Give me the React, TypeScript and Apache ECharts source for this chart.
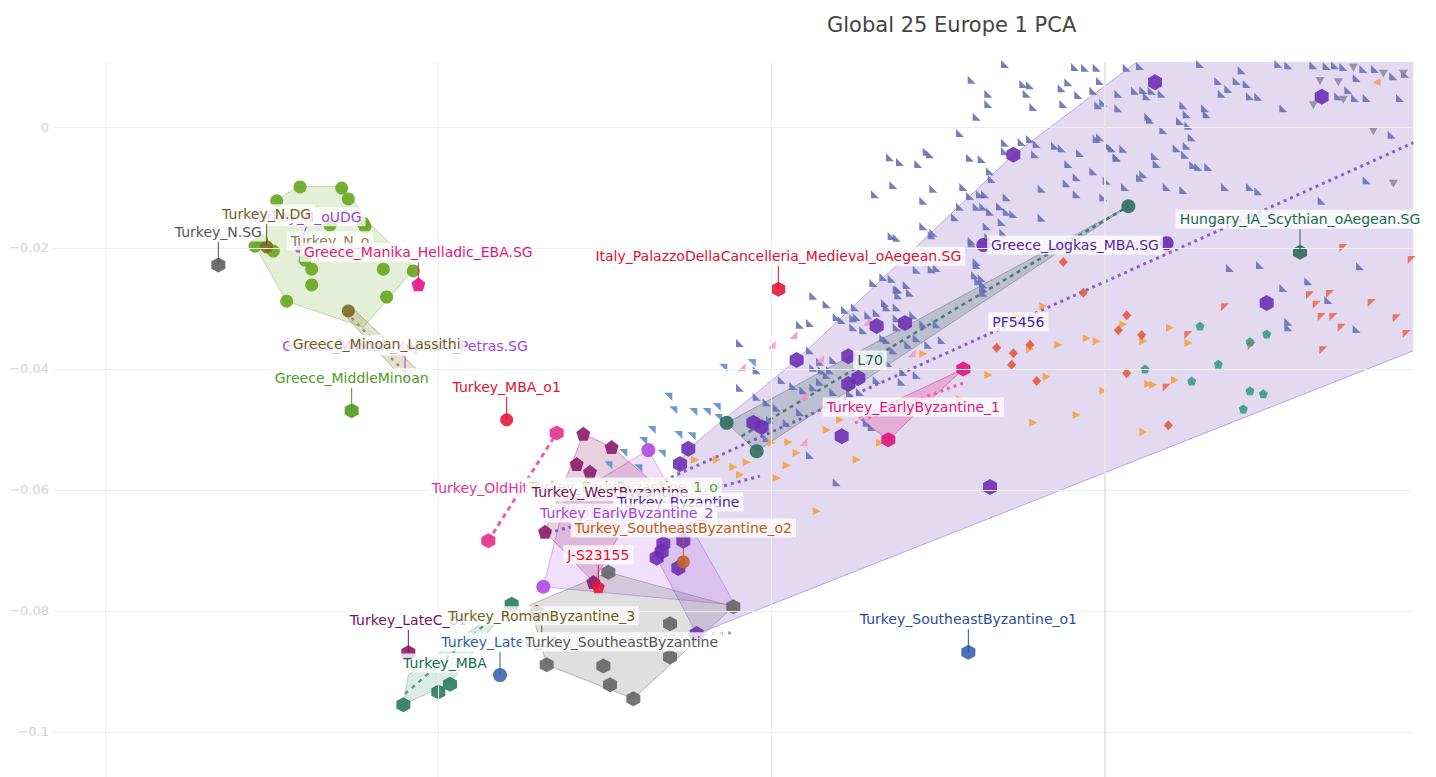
import React, { useEffect, useRef } from "react";
import * as echarts from "echarts";

// ---------- axis ticks ----------
const Y_TICKS = [0, -0.02, -0.04, -0.06, -0.08, -0.1];
const X_GRID = [-0.06, -0.04, -0.02, 0];

// ---------- small markers ----------
const BLUE_TRI = [
  [-0.006,0.0104],[-0.008,0.0078],[-0.007,0.0055],[-0.007,0.0038],[-0.0077,0.0017],[-0.0087,-0.001],[-0.006,-0.0026],[-0.0129,-0.005],[-0.0123,-0.0058],[-0.0107,-0.0041],[-0.0105,-0.0045],[-0.0112,-0.0061],[-0.0081,-0.0051],[-0.0074,-0.0053],[-0.0069,-0.0073],[-0.0127,-0.0096],[-0.0138,-0.0111],[-0.0109,-0.0122],[-0.0103,-0.0102],[-0.0085,-0.0099],[-0.0081,-0.0114],[-0.0075,-0.0111],[-0.0072,-0.0111],[-0.0059,-0.0116],[-0.0087,-0.0132],[-0.0077,-0.0132],[-0.0073,-0.0132],[-0.0069,-0.014],[-0.0063,-0.0131],[-0.0059,-0.014],[-0.0055,-0.0144],[-0.0062,-0.0157],[-0.0071,-0.0164],[-0.0109,-0.0164],[-0.0128,-0.018],[-0.0125,-0.0183],[-0.0103,-0.0175],[-0.008,-0.0188],[-0.0077,-0.0223],[-0.0113,-0.0236],[-0.0104,-0.0235],[-0.0101,-0.0233],[-0.0133,-0.0248],[-0.0128,-0.0251],[-0.0119,-0.0261],[-0.0124,-0.0268],[-0.0117,-0.0274],[-0.0175,-0.0279],[-0.0078,-0.0245],[-0.0074,-0.025],[-0.0073,-0.0266],
  [-0.0018,0.0099],[-0.0012,0.0098],[-0.0005,0.0098],[0.0013,0.0098],[-0.0049,0.0071],[-0.0045,0.0069],[-0.0026,0.0064],[-0.0022,0.0074],[-0.0003,0.0076],[-0.0047,0.0055],[-0.0016,0.0053],[-0.0007,0.006],[-0.0043,0.0033],[-0.0025,0.0038],[-0.0004,0.0036],[-0.0001,0.004],[0.0008,0.0055],[0.0008,0.0031],[0.0018,0.006],[-0.006,-0.004],[-0.005,-0.0025],[-0.0045,-0.002],[-0.0041,-0.0028],[-0.0068,-0.0086],[-0.009,-0.0149],[-0.0038,-0.015],[-0.0061,-0.0175],[-0.007,-0.0182],
  [-0.0042,-0.0045],[-0.003,-0.0031],[-0.0026,-0.0035],[-0.0022,-0.0061],[-0.0015,-0.0043],[-0.0005,-0.002],[-0.0003,-0.0017],[0.0002,-0.0031],[0.0004,-0.0035],[0.0007,-0.005],[0.0011,-0.0036],[0.0023,0.0061],[0.0025,0.0051],[0.0028,0.006],[0.0034,0.0055],[0.0026,0.0017],[0.0027,0.0012],[0.0047,0.0036],[0.0049,0.0021],[0.006,0.0031],[0.0061,0.0021],[0.0045,0.001],[0.005,0.0002],[0.0052,-0.0017],[0.0049,-0.0031],[0.0048,-0.0046],[0.0043,-0.0035],[0.0035,-0.0005],[0.003,-0.0048],[0.0031,-0.0061],[0.0021,-0.0084],[0.0023,-0.0078],[0.0012,-0.0099],[0.0007,-0.0051],[0.0001,-0.0089],[-0.0007,-0.0073],[-0.0017,-0.0083],[-0.0023,-0.0093],[-0.0038,-0.0102],[-0.0017,-0.0111],[-0.0001,-0.0116],[0.0037,-0.0099],[0.0047,-0.0104],[0.0053,-0.0063],[0.0056,-0.0066],[0.0062,-0.0066],[0.0072,-0.0099],[0.0087,-0.0099],[0.0092,-0.0106],[0.013,-0.0122],[0.0157,-0.0088],[0.0068,0.0076],[0.007,0.0055],[0.0074,0.0063],[0.0079,0.0076],[0.0085,0.0071],[0.0087,0.0051],[0.0092,0.005],[0.0082,0.0094],[0.0104,0.0104],[0.011,0.0102],[0.0133,0.0101],[0.0138,0.0102],[0.0143,0.0099],[0.0151,0.0081],[0.0155,0.0096],[0.0107,0.0031],[0.014,0.0051],[0.0146,0.0061],[0.015,0.0048],[0.0157,0.0048],[0.0162,0.0096],[0.0173,0.0084],[0.0177,0.0048],[0.018,0.0088],[0.0172,-0.0013],[0.0125,0.0102],[0.0021,0.0101],[0.0057,0.0104],
  [0.0075,-0.0233],[0.0093,-0.0228],[0.0107,-0.0266],[0.0122,-0.0255],[0.0134,-0.0286],[0.011,-0.0322],[0.011,-0.0331],[0.0151,-0.0334],[0.0153,-0.023],
  [-0.0104,-0.0179],[-0.008,-0.0192],[-0.0077,-0.0228],[-0.0076,-0.0255],[-0.0073,-0.026],[-0.0124,-0.0278],[-0.0115,-0.0311],[-0.0109,-0.0326],[-0.0101,-0.0326],[-0.0098,-0.0352],[-0.0073,-0.0274],[-0.0106,-0.036],[-0.0131,-0.0298],[-0.0125,-0.0298],[-0.0113,-0.0349],[-0.0122,-0.0421],[-0.0125,-0.0331],[-0.0133,-0.0349],
  [-0.0219,-0.0357],[-0.0209,-0.0402],[-0.0219,-0.0431],[-0.0167,-0.0293],[-0.0156,-0.0302],[-0.015,-0.0298],[-0.0183,-0.0327],[-0.0177,-0.0324],[-0.0161,-0.0314],[-0.0158,-0.0319],[-0.0151,-0.0316],[-0.0149,-0.0314],[-0.0142,-0.0311],[-0.0137,-0.0307],[-0.0132,-0.0291],[-0.0125,-0.0269],[-0.0139,-0.0258],[-0.0125,-0.0316],[-0.0151,-0.0331],[-0.0145,-0.0336],[-0.0131,-0.0352],[-0.0127,-0.0369],[-0.0118,-0.036],[-0.0177,-0.0369],[-0.0171,-0.0388],[-0.0175,-0.0398],[-0.017,-0.0402],[-0.0165,-0.0402],[-0.0167,-0.041],[-0.0163,-0.0385],[-0.0194,-0.0418],[-0.0187,-0.0428],[-0.0181,-0.0435],[-0.0209,-0.0446],[-0.0203,-0.0455],[-0.0197,-0.0464],[-0.0201,-0.0484],[-0.0183,-0.0471],[-0.0171,-0.0421],[-0.0175,-0.043],[-0.0163,-0.0438],[-0.0153,-0.044],[-0.0147,-0.0438],[-0.0137,-0.0418],[-0.013,-0.039],[-0.0121,-0.0405],[-0.0113,-0.041],[-0.014,-0.0496],[-0.0143,-0.0489],[-0.0191,-0.0489],[-0.0177,-0.0542],[-0.0203,-0.0514],[-0.0161,-0.0587],[-0.0231,-0.0617],
];
const LIGHTBLUE_TRI = [
  [-0.0229,-0.0398],[-0.0262,-0.0446],[-0.0259,-0.0468],[-0.0239,-0.0471],[-0.0233,-0.0463],[-0.0232,-0.0481],[-0.0272,-0.0501],[-0.0256,-0.0509],[-0.0248,-0.0511],[-0.0277,-0.0519],[-0.0289,-0.0539],[-0.0266,-0.054],[-0.0247,-0.0471],[-0.028,-0.0564],[-0.0212,-0.039],[-0.0298,-0.0559],
];
const ORANGE_TRI = [
  [-0.0037,-0.0296],[-0.0053,-0.0312],[-0.0045,-0.0367],[-0.0028,-0.036],[-0.0011,-0.0349],[-0.0005,-0.0354],[0.0011,-0.0326],[0.0023,-0.0354],[0.0039,-0.0332],[0.005,-0.0357],[-0.007,-0.041],[-0.0035,-0.0413],[-0.0001,-0.0436],[0.0026,-0.0425],[0.0029,-0.0426],[0.0042,-0.0418],[-0.0017,-0.0476],[-0.0043,-0.0489],[0.0023,-0.0504],[-0.0087,-0.045],[-0.0109,-0.0375],[-0.02,-0.0522],[-0.019,-0.0521],[-0.0185,-0.0539],[-0.0191,-0.0559],[-0.0215,-0.0554],[-0.0223,-0.0562],[-0.0219,-0.0575],[-0.0246,-0.055],[-0.0233,-0.055],[-0.0149,-0.055],[-0.0135,-0.0522],[-0.0167,-0.0501],[-0.0159,-0.0484],[-0.0173,-0.0635],[-0.0197,-0.058],
];
const RED_DIAMOND = [
  [-0.0025,-0.0223],[-0.0013,-0.0274],[0.0008,-0.0336],[0.0013,-0.0311],[0.0022,-0.0344],[-0.0065,-0.0365],[-0.0055,-0.0374],[-0.0045,-0.036],[-0.0056,-0.0393],[-0.0041,-0.042],[0.0013,-0.0407],[0.0038,-0.0493],
];
const RED_TRI = [
  [0.0143,-0.02],[0.0184,-0.022],[0.0072,-0.0298],[0.0123,-0.0278],[0.0135,-0.0276],[0.0127,-0.0294],[0.016,-0.0291],[0.013,-0.0314],[0.0137,-0.0314],[0.0142,-0.0332],[0.0175,-0.0316],[0.0181,-0.0342],[0.0131,-0.0369],[0.0088,-0.0362],[0.005,-0.0344],[0.0037,-0.0431],
];
const TEAL_PENT = [
  [0.0057,-0.0329],[0.0097,-0.0342],[0.0087,-0.0355],[0.0024,-0.04],[0.0068,-0.0392],[0.0052,-0.042],[0.0087,-0.0436],[0.0095,-0.0441],[0.0083,-0.0466],
];
const PINK_TRI = [
  [-0.0187,-0.0344],[-0.0218,-0.0397],[-0.0171,-0.0383],[-0.0181,-0.0445],[-0.0181,-0.0521],[-0.0116,-0.0374],[-0.0143,-0.0322],[-0.02,-0.036],
];
const GRAY_TRI = [
  [0.0129,0.0076],[0.014,0.0074],[0.0125,0.0036],[0.0143,0.0045],[0.0149,0.0098],[0.0161,-0.0007],[0.0173,-0.0094],[0.0167,0.0088],[0.0179,0.0088],
];
const ORANGE_LEFT = [[0.0163, 0.0074]];

// ---------- group markers ----------
const GREEN_CIRC = [
  [-0.0483,-0.0099],[-0.0458,-0.0101],[-0.0454,-0.0119],[-0.0497,-0.0122],[-0.0445,-0.0159],[-0.0444,-0.0165],[-0.051,-0.0197],[-0.0499,-0.0205],[-0.0476,-0.0235],[-0.0476,-0.0261],[-0.0433,-0.0235],[-0.0415,-0.0238],[-0.0491,-0.0288],[-0.0431,-0.0281],[-0.048,-0.022],[-0.0493,-0.0144],[-0.0465,-0.0162],[-0.0506,-0.0187],
];
const BYZ_HEX = [
  [0.003,0.0074],[0.013,0.005],[-0.0055,-0.0046],[0.0097,-0.0291],[-0.0137,-0.0329],[-0.012,-0.0324],[-0.0185,-0.0385],[-0.0154,-0.0379],[-0.0148,-0.0415],[-0.0154,-0.0425],[-0.0158,-0.0511],[-0.0211,-0.0489],[-0.0206,-0.0496],[-0.025,-0.0532],[-0.0255,-0.0557],[-0.0069,-0.0595],[-0.0265,-0.0689],[-0.0266,-0.0702],[-0.0269,-0.0712],[-0.0256,-0.0729],[-0.0245,-0.0838],[-0.0253,-0.0684],
];
const LOGKAS_CIRC = [[-0.0073,-0.0195],[0.0037,-0.0192]];
const L70_CIRC = [[-0.0227,-0.0489],[-0.0209,-0.0536],[0.0014,-0.0131]];
const WESTBYZ_PENT = [[-0.0313,-0.0507],[-0.0296,-0.0529],[-0.0317,-0.0557],[-0.0309,-0.057],[-0.0336,-0.0669],[-0.0307,-0.0752]];
const EBZ2_CIRC = [[-0.0274,-0.0534],[-0.0337,-0.076]];
const SEBYZ_HEX = [[-0.0335,-0.0889],[-0.0301,-0.0891],[-0.0297,-0.0922],[-0.0283,-0.0945],[-0.0261,-0.0876],[-0.0261,-0.0821],[-0.0223,-0.0793],[-0.0298,-0.0736],[-0.0341,-0.0802]];
const MBA_HEX = [[-0.0421,-0.0955],[-0.04,-0.0934],[-0.0393,-0.0921],[-0.0356,-0.0789]];
const OLDHIT_HEX = [[-0.0329,-0.0506],[-0.037,-0.0684]];
const EBZ1_HEX = [[-0.0085,-0.04],[-0.013,-0.0517]];
const OLIVE_CIRC = [[-0.0503,-0.0198],[-0.0454,-0.0304]];
const NSG_HEX = [[-0.0532,-0.0228]];
const SMALL_PURPLE = [[-0.0484,-0.0203],[-0.042,-0.0415]];
const MANIKA_PENT = [[-0.0412,-0.026]];
const MIDMINOAN_HEX = [[-0.0452,-0.0469]];
const RED_CIRC = [[-0.0359,-0.0484]];
const RED_HEX = [[-0.0196,-0.0268]];
const RED_PENT = [[-0.0304,-0.076]];
const HUNGARY_HEX = [[0.0117,-0.0207]];
const BROWN_CIRC = [[-0.0253,-0.0719]];
const LATEC1_HEX = [[-0.0418,-0.0869]];
const LATEC2_CIRC = [[-0.0363,-0.0906]];
const SEO1_HEX = [[-0.0082,-0.0868]];

// ---------- hulls ----------
const GREEN_HULL = [[-0.0484,-0.0098],[-0.0458,-0.0098],[-0.0452,-0.0117],[-0.0442,-0.0157],[-0.0414,-0.0233],[-0.0445,-0.0331],[-0.0491,-0.0288],[-0.051,-0.0197],[-0.0497,-0.0121]];
const LASSITHI_HULL = [[-0.0456,-0.0311],[-0.0452,-0.0298],[-0.0413,-0.04],[-0.042,-0.042]];
const BYZ_HULL = [[-0.0245,-0.0838],[0.0297,-0.0248],[0.0297,0.0375],[0.0148,0.0375],[-0.0055,-0.0046],[-0.0185,-0.0385],[-0.025,-0.0532],[-0.0255,-0.0557],[-0.0269,-0.0712]];
const L70_HULL = [[-0.0227,-0.0489],[0.0014,-0.0131],[-0.0209,-0.0536]];
const EBZ1_HULL = [[-0.0085,-0.04],[-0.013,-0.0517],[-0.0148,-0.0481]];
const WESTBYZ_HULL = [[-0.0313,-0.0507],[-0.0296,-0.0529],[-0.0273,-0.0583],[-0.0307,-0.0752],[-0.0336,-0.0669]];
const EBZ2_HULL = [[-0.0337,-0.076],[-0.0324,-0.0617],[-0.0274,-0.0534],[-0.0222,-0.079]];
const SEBYZ_HULL = [[-0.0335,-0.0889],[-0.0345,-0.079],[-0.0298,-0.0736],[-0.0223,-0.0793],[-0.0283,-0.0945]];
const MBA_HULL = [[-0.0421,-0.0955],[-0.0418,-0.0906],[-0.0357,-0.0787],[-0.0393,-0.0919]];

// ---------- trend lines ----------
const LINE_BYZ = [[-0.0291,-0.0617],[0.0185,-0.0026]];
const LINE_WEST = [[-0.0334,-0.0671],[-0.0207,-0.0577]];
const LINE_L70 = [[-0.0218,-0.0511],[0.0014,-0.0131]];
const LINE_OLDHIT = [[-0.037,-0.0684],[-0.0329,-0.0506]];
const LINE_EBZ1 = [[-0.015,-0.0489],[-0.0085,-0.0423]];
const LINE_MBA = [[-0.042,-0.0937],[-0.0369,-0.0815]];
const LINE_SEBYZ = [[-0.0279,-0.0843],[-0.0223,-0.0836]];
const LINE_LASSITHI = [[-0.0452,-0.0316],[-0.042,-0.0405]];

// ---------- annotations (anchor values) ----------
const ANNOTATIONS = [
  { name: "Turkey_N.SG", x: -0.0532, y: -0.0228 },
  { name: "Turkey_N_oUDG", x: -0.0484, y: -0.0203 },
  { name: "Turkey_N.DG", x: -0.0503, y: -0.0198 },
  { name: "Turkey_N_o", x: -0.0465, y: -0.0188 },
  { name: "Greece_Manika_Helladic_EBA.SG", x: -0.0412, y: -0.026 },
  { name: "Greece_Minoan_Kephala_Petras.SG", x: -0.042, y: -0.0415 },
  { name: "Greece_Minoan_Lassithi", x: -0.0437, y: -0.0359 },
  { name: "Greece_MiddleMinoan", x: -0.0452, y: -0.0469 },
  { name: "Turkey_MBA_o1", x: -0.0359, y: -0.0484 },
  { name: "Italy_PalazzoDellaCancelleria_Medieval_oAegean.SG", x: -0.0196, y: -0.0268 },
  { name: "Greece_Logkas_MBA.SG", x: -0.0018, y: -0.0195 },
  { name: "Hungary_IA_Scythian_oAegean.SG", x: 0.0117, y: -0.0207 },
  { name: "PF5456", x: -0.0052, y: -0.0322 },
  { name: "L70", x: -0.0141, y: -0.0385 },
  { name: "Turkey_EarlyByzantine_1", x: -0.0115, y: -0.0463 },
  { name: "Turkey_OldHittite", x: -0.0368, y: -0.0597 },
  { name: "Turkey_EarlyByzantine_1_o", x: -0.0289, y: -0.0595 },
  { name: "Turkey_WestByzantine", x: -0.0297, y: -0.0603 },
  { name: "Turkey_Byzantine", x: -0.0256, y: -0.062 },
  { name: "Turkey_EarlyByzantine_2", x: -0.0287, y: -0.0638 },
  { name: "Turkey_SoutheastByzantine_o2", x: -0.0253, y: -0.0719 },
  { name: "J-S23155", x: -0.0304, y: -0.076 },
  { name: "Turkey_LateC_o1", x: -0.0418, y: -0.0869 },
  { name: "Turkey_RomanByzantine_3", x: -0.0338, y: -0.0864 },
  { name: "Turkey_LateC_o2", x: -0.0363, y: -0.0906 },
  { name: "Turkey_SoutheastByzantine", x: -0.029, y: -0.0851 },
  { name: "Turkey_MBA", x: -0.0396, y: -0.0886 },
  { name: "Turkey_SoutheastByzantine_o1", x: -0.0082, y: -0.0868 },
];

// annotation styling: colour and label offset in px (ay<0 means label above, with a connector)
const ANN_STYLE: Record<string, { color: string; ax?: number; ay?: number }> = {
  "Turkey_N.SG": { color: "#555555", ay: -33 },
  "Turkey_N_oUDG": { color: "#a23fe0", ax: 8, ay: -33 },
  "Turkey_N.DG": { color: "#6e6018", ay: -33 },
  "Turkey_N_o": { color: "#8a8160" },
  "Greece_Manika_Helladic_EBA.SG": { color: "#e0147c", ay: -32 },
  "Greece_Minoan_Kephala_Petras.SG": { color: "#a23fe0", ay: -32 },
  "Greece_Minoan_Lassithi": { color: "#6e6018" },
  "Greece_MiddleMinoan": { color: "#4e9a1e", ay: -33 },
  "Turkey_MBA_o1": { color: "#e0102e", ay: -33 },
  "Italy_PalazzoDellaCancelleria_Medieval_oAegean.SG": { color: "#e0102e", ay: -33 },
  "Greece_Logkas_MBA.SG": { color: "#5a22a8" },
  "Hungary_IA_Scythian_oAegean.SG": { color: "#176b4f", ay: -33 },
  "PF5456": { color: "#4b1fa0" },
  "L70": { color: "#1d6650" },
  "Turkey_EarlyByzantine_1": { color: "#e0147c" },
  "Turkey_OldHittite": { color: "#e8308a" },
  "Turkey_EarlyByzantine_1_o": { color: "#5aa02a" },
  "Turkey_WestByzantine": { color: "#7a0f5e" },
  "Turkey_Byzantine": { color: "#4b1fa0" },
  "Turkey_EarlyByzantine_2": { color: "#a23fe0" },
  "Turkey_SoutheastByzantine_o2": { color: "#c05a0c", ay: -34 },
  "J-S23155": { color: "#e0102e", ay: -32 },
  "Turkey_LateC_o1": { color: "#7a0f5e", ay: -33 },
  "Turkey_RomanByzantine_3": { color: "#6e6018", ay: -34 },
  "Turkey_LateC_o2": { color: "#2f5ea8", ay: -33 },
  "Turkey_SoutheastByzantine": { color: "#555555" },
  "Turkey_MBA": { color: "#176b4f" },
  "Turkey_SoutheastByzantine_o1": { color: "#2a4c9c", ay: -33 },
};

// ---------- symbols ----------
const HEX = "path://M50,0 L93.3,25 L93.3,75 L50,100 L6.7,75 L6.7,25 Z";
const PENT = "path://M50,0 L97.6,34.5 L79.4,90.5 L20.6,90.5 L2.4,34.5 Z";
const TRI_SW = "path://M0,0 L0,100 L100,100 Z";
const TRI_NE = "path://M0,0 L100,0 L100,100 Z";
const TRI_NW = "path://M0,0 L100,0 L0,100 Z";
const TRI_SE = "path://M100,0 L100,100 L0,100 Z";
const TRI_R = "path://M0,0 L100,50 L0,100 Z";
const TRI_L = "path://M100,0 L0,50 L100,100 Z";
const TRI_D = "path://M0,0 L100,0 L50,100 Z";

const FONT = '"DejaVu Sans", Verdana, sans-serif';

function hull(points: number[][], fill: string, stroke: string, z = 1) {
  return {
    type: "custom",
    silent: true,
    clip: true,
    z,
    data: [points[0]],
    renderItem: (_p: any, api: any) => ({
      type: "polygon",
      shape: { points: points.map((pt) => api.coord(pt)) },
      style: { fill, stroke, lineWidth: 1 },
    }),
  };
}

function trend(points: number[][], color: string, dash: number[], width = 3) {
  return {
    type: "line",
    silent: true,
    z: 2,
    data: points,
    symbol: "none",
    lineStyle: { color, width, type: dash, cap: "butt" },
  };
}

function pts(data: number[][], symbol: string, size: number | number[], color: string, opacity = 0.9, z = 3) {
  return {
    type: "scatter",
    silent: true,
    z,
    data,
    symbol,
    symbolSize: size,
    itemStyle: { color, opacity },
  };
}

const fmtTick = (v: number) => (v === 0 ? "0" : "\u2212" + String(Math.abs(v)));

export default function App() {
  const ref = useRef<HTMLDivElement>(null);
  useEffect(() => {
    document.body.style.margin = "0";
    const chart = echarts.init(ref.current!, undefined, { renderer: "svg" });
    const option: any = {
      animation: false,
      backgroundColor: "#ffffff",
      title: {
        text: "Global 25 Europe 1 PCA",
        left: 822,
        top: 9,
        textStyle: { fontFamily: FONT, fontSize: 21, fontWeight: "normal", color: "#444444" },
      },
      grid: { left: 53, right: 23, top: 62, bottom: 0, containLabel: false },
      xAxis: {
        type: "value",
        min: -0.06312,
        max: 0.01848,
        axisLine: { show: false },
        axisTick: { show: false },
        axisLabel: { show: false },
        splitLine: { show: false },
      },
      yAxis: {
        type: "value",
        min: -0.10744,
        max: 0.010744,
        axisLine: { show: false },
        axisTick: { show: false },
        axisLabel: { show: false },
        splitLine: { show: false },
      },
      series: [
        {
          type: "line",
          data: [],
          z: 0,
          silent: true,
          markLine: {
            silent: true,
            symbol: ["none", "none"],
            animation: false,
            lineStyle: { color: "#ededed", width: 1, type: "solid" },
            data: [
              ...Y_TICKS.map((v) => ({
                yAxis: v,
                label: {
                  show: true,
                  position: "start",
                  formatter: () => fmtTick(v),
                  color: "#d2d2d2",
                  fontSize: 13,
                  fontFamily: FONT,
                  distance: 4,
                },
              })),
              ...X_GRID.map((v) => ({
                xAxis: v,
                label: { show: false },
                lineStyle: v === 0 ? { color: "#e6e6e6", width: 2, type: "solid" } : { color: "#ededed", width: 1, type: "solid" },
              })),
            ],
          },
        },
        // hulls
        hull(BYZ_HULL, "rgba(126,87,194,0.22)", "rgba(126,87,194,0.45)"),
        hull(GREEN_HULL, "rgba(102,166,30,0.18)", "rgba(102,166,30,0.35)"),
        hull(LASSITHI_HULL, "rgba(140,130,60,0.25)", "rgba(140,130,60,0.45)"),
        hull(EBZ2_HULL, "rgba(176,64,224,0.16)", "rgba(176,64,224,0.4)"),
        hull(WESTBYZ_HULL, "rgba(140,20,100,0.2)", "rgba(140,20,100,0.35)"),
        hull(SEBYZ_HULL, "rgba(110,110,110,0.22)", "rgba(110,110,110,0.45)"),
        hull(MBA_HULL, "rgba(27,120,90,0.15)", "rgba(27,120,90,0.3)"),
        hull(EBZ1_HULL, "rgba(231,41,138,0.25)", "rgba(231,41,138,0.5)"),
        // small markers
        pts(BLUE_TRI, TRI_SW, 8, "#6870b5"),
        pts(LIGHTBLUE_TRI, TRI_NE, 8, "#5b90c8"),
        pts(ORANGE_TRI, TRI_R, 8, "#f5a142"),
        pts(RED_DIAMOND, "diamond", [9, 10], "#e25a3e"),
        pts(RED_TRI, TRI_NW, 8, "#ea6a50"),
        pts(TEAL_PENT, PENT, 9, "#3a9a88"),
        pts(PINK_TRI, TRI_SE, 8, "#f29bc8"),
        pts(GRAY_TRI, TRI_D, [9, 8], "#8d8a9e"),
        pts(ORANGE_LEFT, TRI_L, 8, "#f0a060"),
        // slate band above the small markers
        hull(L70_HULL, "rgba(47,79,79,0.2)", "rgba(47,79,79,0.35)", 3),
        // trend lines
        trend(LINE_BYZ, "#8a60c8", [3, 4]),
        trend(LINE_WEST, "#8a60c8", [3, 4]),
        trend(LINE_L70, "#4a8a80", [4, 4], 2.5),
        trend(LINE_OLDHIT, "#f060a8", [5, 4]),
        trend(LINE_EBZ1, "#f060a8", [3, 4]),
        trend(LINE_MBA, "#5a9a88", [4, 5], 2.5),
        trend(LINE_SEBYZ, "#a0a0a0", [3, 5]),
        trend(LINE_LASSITHI, "#9a9060", [3, 5], 2.5),
        // group markers
        pts(GREEN_CIRC, "circle", 13, "#66a61e", 0.9, 4),
        pts(OLIVE_CIRC, "circle", 13, "#7a6a20", 0.9, 4),
        pts(NSG_HEX, HEX, [14, 15], "#666666", 0.95, 4),
        pts(SMALL_PURPLE, "circle", 6, "#b04be0", 0.95, 4),
        pts(MANIKA_PENT, PENT, 14, "#e6208a", 0.95, 4),
        pts(MIDMINOAN_HEX, HEX, [14, 15], "#5a9e28", 0.95, 4),
        pts(BYZ_HEX, HEX, [14, 16], "#6a2bb0", 0.88, 4),
        pts(LOGKAS_CIRC, "circle", 14, "#6a2bb0", 0.9, 4),
        pts(L70_CIRC, "circle", 14, "#2e6b62", 0.9, 4),
        pts(WESTBYZ_PENT, PENT, 14, "#8b1a6b", 0.9, 4),
        pts(EBZ2_CIRC, "circle", 14, "#b04be0", 0.9, 4),
        pts(SEBYZ_HEX, HEX, [14, 15], "#5e5e5e", 0.85, 4),
        pts(MBA_HEX, HEX, [14, 15], "#2a7a5e", 0.9, 4),
        pts(OLDHIT_HEX, HEX, [14, 15], "#e6308a", 0.9, 4),
        pts(EBZ1_HEX, HEX, [14, 15], "#e0147c", 0.9, 4),
        pts(RED_CIRC, "circle", 13, "#e31a3a", 0.9, 4),
        pts(RED_HEX, HEX, [14, 15], "#e31a3a", 0.9, 4),
        pts(RED_PENT, PENT, 13, "#e31a3a", 0.9, 4),
        pts(HUNGARY_HEX, HEX, [14, 15], "#2e6b55", 0.9, 4),
        pts(BROWN_CIRC, "circle", 13, "#c0622a", 0.9, 4),
        pts(LATEC1_HEX, HEX, [14, 15], "#8b1a6b", 0.9, 4),
        pts(LATEC2_CIRC, "circle", 14, "#3a66b0", 0.9, 4),
        pts(SEO1_HEX, HEX, [14, 15], "#3a62b0", 0.9, 4),
        // annotations
        {
          type: "custom",
          silent: true,
          clip: false,
          z: 10,
          data: ANNOTATIONS.map((a, i) => [a.x, a.y, i]),
          renderItem: (_p: any, api: any) => {
            const a = ANNOTATIONS[api.value(2)];
            const st = ANN_STYLE[a.name];
            const p = api.coord([api.value(0), api.value(1)]);
            const lx = p[0] + (st.ax || 0);
            const ly = p[1] + (st.ay || 0);
            const children: any[] = [];
            if (st.ay) {
              children.push({
                type: "line",
                shape: { x1: lx, y1: ly + 10, x2: p[0], y2: p[1] },
                style: { stroke: st.color, lineWidth: 1 },
              });
            }
            children.push({
              type: "text",
              x: lx,
              y: ly,
              style: {
                text: a.name,
                fill: st.color,
                font: `14px ${FONT}`,
                align: "center",
                verticalAlign: "middle",
                backgroundColor: "rgba(255,255,255,0.78)",
                padding: [3, 4, 2, 4],
              },
            });
            return { type: "group", children };
          },
        },
      ],
    };
    chart.setOption(option);
    return () => chart.dispose();
  }, []);
  return (
    <div
      ref={ref}
      style={{ position: "absolute", left: 0, top: 0, width: 1436, height: 777, background: "#fff" }}
    />
  );
}
